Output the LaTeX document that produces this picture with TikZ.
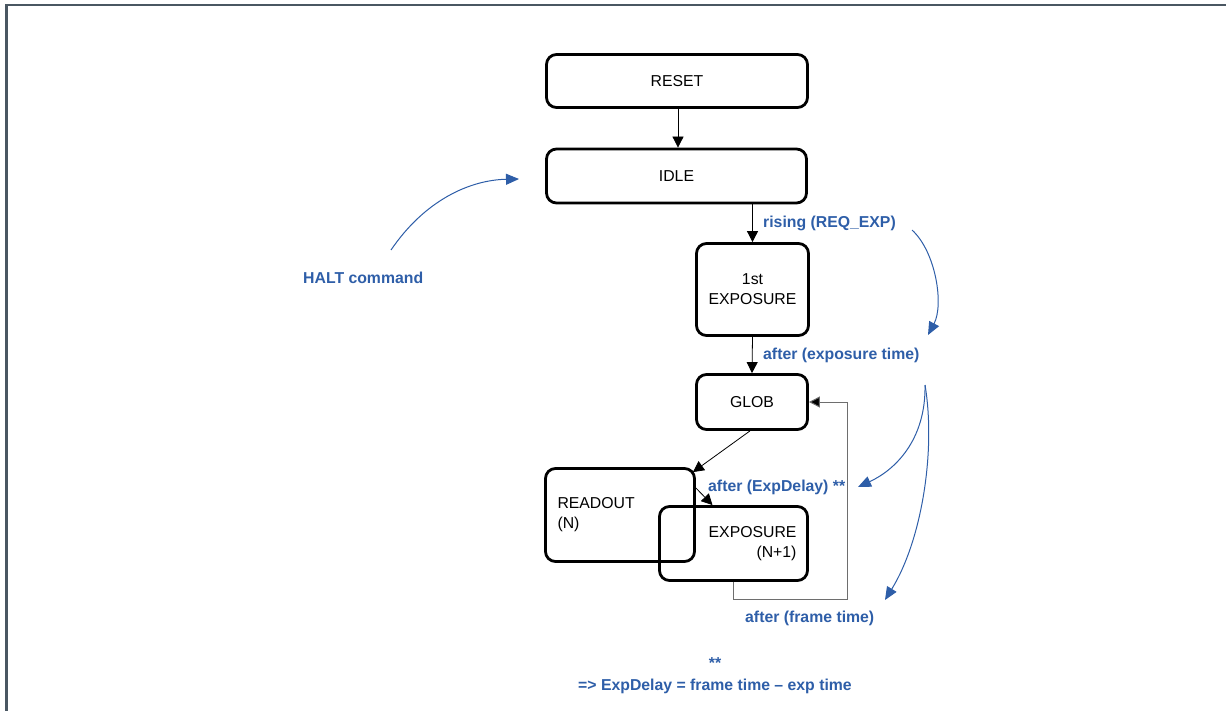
\documentclass[tikz,border=0pt]{standalone}
\usepackage{fontspec}
\setmainfont{Liberation Sans}
\usetikzlibrary{arrows.meta,calc}
\definecolor{bluelab}{RGB}{46,94,168}
\definecolor{framecol}{RGB}{74,87,98}
\definecolor{fbgray}{RGB}{110,110,110}
\begin{document}
\begin{tikzpicture}[x=1pt,y=-1pt,
  state/.style={draw=black,line width=2.8pt,rounded corners=10pt,inner sep=0pt,
     font=\fontsize{15.8}{20}\selectfont},
  arr/.style={draw=black,line width=0.8pt,-{Triangle[length=11pt,width=11pt]}},
  fbline/.style={draw=fbgray,line width=1pt,-{Triangle[length=11pt,width=11pt,fill=black]}},
  barr/.style={draw=bluelab,line width=1pt,-{Triangle[length=13pt,width=11pt]}},
  blab/.style={text=bluelab,font=\fontsize{15.8}{19}\selectfont\bfseries,inner sep=0pt}]
\useasboundingbox (0,0) rectangle (1226,711);
\draw[framecol,line width=2.4pt,line join=miter] (6.3,711) -- (6.3,5) -- (1226,5);

% states
\node[state,minimum width=261pt,minimum height=53pt] (reset) at (677,81) {RESET};
\node[state,minimum width=260pt,minimum height=54pt] (idle) at (676.5,176) {IDLE};
\node[state,minimum width=112pt,minimum height=92pt,align=center] (first) at (752.5,289.5) {1st\\EXPOSURE};
\node[state,minimum width=111pt,minimum height=55pt] (glob) at (752,402) {GLOB};
\node[state,minimum width=149pt,minimum height=93pt,text width=125pt,align=left] (readout) at (620,515) {READOUT\\(N)};
\node[state,minimum width=148pt,minimum height=74pt,text width=126pt,align=right] (expn) at (733.5,543.5) {EXPOSURE\\(N+1)};

% black transitions
\draw[arr] ([xshift=1pt]reset.south) -- ([xshift=1pt]reset.south |- idle.north);
\draw[arr] (first.north |- idle.south) -- (first.north);
\draw[arr] (first.south) -- (glob.north);
\draw[arr] ([xshift=-2pt]glob.south) -- ([xshift=-3pt,yshift=-5pt]readout.north east);
\draw[arr] ([yshift=27pt]readout.east) -- ([xshift=-21pt]expn.north);
\coordinate (fbc) at (847,599);
\draw[fbline] (expn.south) |- (fbc) |- (glob.east);

% labels
\node[blab,anchor=west] (lrise) at (763,223) {rising (REQ\_EXP)};
\node[blab,anchor=west] (lexp) at (763,355) {after (exposure time)};
\node[blab,anchor=west] (ldel) at (708,487) {after (ExpDelay) **};
\node[blab,anchor=west] (lframe) at (745,618) {after (frame time)};
\node[blab,anchor=west] (lhalt) at (303,278) {HALT command};
\node[blab] (lstar) at (715,663) {**};
\node[blab] (lnote) at (715,686) {=> ExpDelay = frame time – exp time};

% blue curved arrows
\coordinate (h0) at (391,250);
\coordinate (h1) at (519,179);
\draw[barr] (h0) .. controls (425,200) and (470,180) .. (h1);
\coordinate (r0) at (912,230);
\coordinate (r1) at (928,335);
\draw[barr] (r0) .. controls (936,252) and (944,305) .. (r1);
\coordinate (e0) at (925,385);
\coordinate (e1) at (858,487);
\coordinate (e2) at (885,600);
\draw[barr] (e0) .. controls (926,440) and (895,470) .. (e1);
\draw[barr] (e0) .. controls (936,450) and (922,540) .. (e2);
\end{tikzpicture}
\end{document}
